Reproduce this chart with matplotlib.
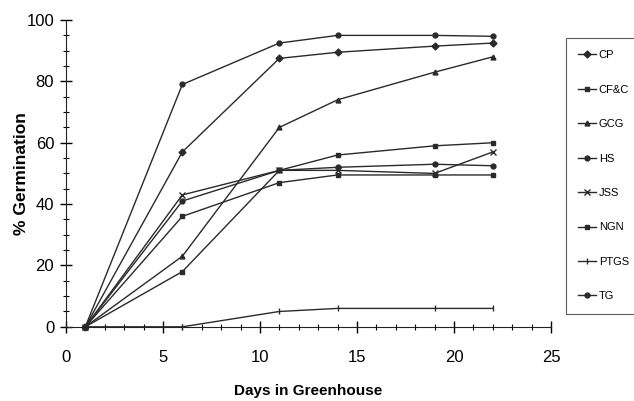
import matplotlib.pyplot as plt
from matplotlib.ticker import MultipleLocator

plt.rcParams['font.family'] = ['Liberation Sans', 'DejaVu Sans']

days = [1, 6, 11, 14, 19, 22]
labels = ['CP', 'CF&C', 'GCG', 'HS', 'JSS', 'NGN', 'PTGS', 'TG']
cp = [0, 57, 87.5, 89.5, 91.5, 92.5]
cfc = [0, 36, 47, 49.5, 49.5, 49.5]
gcg = [0, 23, 65, 74, 83, 88]
hs = [0, 79, 92.5, 95, 95, 94.7]
jss = [0, 43, 51, 51, 50, 57]
ngn = [0, 18, 51, 56, 59, 60]
ptgs = [0, 0, 5, 6, 6, 6]
tg = [0, 41, 51, 52, 53, 52.5]
series = [cp, cfc, gcg, hs, jss, ngn, ptgs, tg]
markers = ['D', 's', '^', 'o', 'x', 's', '|', 'o']

fig = plt.figure(figsize=(6.34, 4.01), dpi=100)
ax = fig.add_axes([0.104, 0.185, 0.765, 0.765])

for vals, lab, m in zip(series, labels, markers):
    ms = 3.5 if m not in ('x', '|') else 5
    ax.plot(days, vals, color='#2a2a2a', lw=1.0, marker=m, ms=ms,
            mew=1.0, label=lab, clip_on=False)

ax.set_xlim(0, 25)
ax.set_ylim(0, 100)
ax.xaxis.set_major_locator(MultipleLocator(5))
ax.xaxis.set_minor_locator(MultipleLocator(1))
ax.yaxis.set_major_locator(MultipleLocator(20))
ax.yaxis.set_minor_locator(MultipleLocator(5))
ax.tick_params(axis='x', which='major', direction='inout', length=9, width=1, labelsize=12, pad=12)
ax.tick_params(axis='x', which='minor', direction='inout', length=5, width=0.8)
ax.tick_params(axis='y', which='major', direction='inout', length=9, width=1, labelsize=12, pad=4)
ax.tick_params(axis='y', which='minor', direction='inout', length=5, width=0.8)

for s in ['top', 'right']:
    ax.spines[s].set_visible(False)
for s in ['left', 'bottom']:
    ax.spines[s].set_color('#222222')

ax.set_xlabel('Days in Greenhouse', fontsize=11, fontweight='bold', labelpad=14)
ax.set_ylabel('% Germination', fontsize=12.5, fontweight='bold', labelpad=-2)

leg = fig.legend(loc='upper left', bbox_to_anchor=(566 / 634, 1 - 38 / 401),
                 frameon=True, fancybox=False,
                 fontsize=8, handlelength=1.6, labelspacing=2.2,
                 borderpad=1.1, borderaxespad=0, handletextpad=0.25)
leg.get_frame().set_edgecolor('#333333')
leg.get_frame().set_linewidth(0.8)

fig.savefig('out.png', dpi=100)
